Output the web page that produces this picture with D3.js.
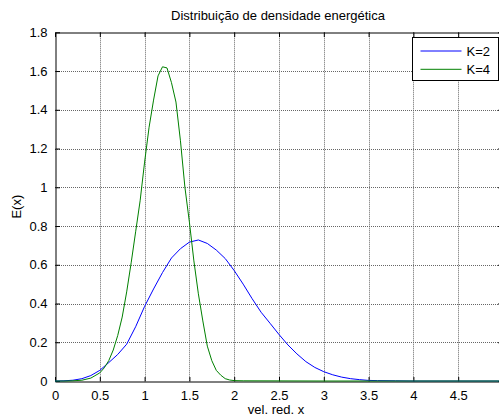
<!DOCTYPE html>
<html>
<head>
<meta charset="utf-8">
<script src="https://cdn.jsdelivr.net/npm/d3@7"></script>
<style>
  html, body { margin: 0; padding: 0; background: #fff; }
  svg { display: block; font-family: "Liberation Sans", Arial, Helvetica, sans-serif; }
</style>
</head>
<body>
<svg id="chart" width="499" height="417"></svg>
<script>
// Energy density E(x) versus reduced velocity x for two values of K
const xK2 = [0, 0.1, 0.2, 0.3, 0.4, 0.5, 0.6, 0.7, 0.8, 0.9, 1.0, 1.1, 1.2, 1.3, 1.4, 1.5, 1.6, 1.7, 1.8, 1.9,
             2.0, 2.1, 2.2, 2.3, 2.4, 2.5, 2.6, 2.7, 2.8, 2.9, 3.0, 3.1, 3.2, 3.3, 3.4, 3.5, 3.6, 3.8, 4.0, 4.5, 5.0];
const eK2 = [0, 0.001, 0.004, 0.012, 0.028, 0.055, 0.095, 0.137, 0.19, 0.28, 0.385, 0.475, 0.56, 0.635, 0.683, 0.717, 0.728, 0.71, 0.676, 0.632,
             0.57, 0.5, 0.425, 0.355, 0.298, 0.24, 0.186, 0.14, 0.1, 0.07, 0.048, 0.032, 0.02, 0.012, 0.007, 0.003, 0.002, 0.001, 0, 0, 0];

const xK4 = [0, 0.1, 0.2, 0.3, 0.4, 0.5, 0.55, 0.6, 0.65, 0.7, 0.75, 0.8, 0.85, 0.9, 0.95, 1.0, 1.05, 1.1, 1.15, 1.2,
             1.25, 1.3, 1.35, 1.4, 1.45, 1.5, 1.55, 1.6, 1.65, 1.7, 1.75, 1.8, 1.85, 1.9, 1.95, 2.0, 2.1, 3.0, 4.0, 5.0];
const eK4 = [0, 0, 0.001, 0.004, 0.015, 0.042, 0.068, 0.105, 0.16, 0.235, 0.33, 0.46, 0.61, 0.77, 0.93, 1.13, 1.31, 1.45, 1.575, 1.622,
             1.616, 1.54, 1.44, 1.24, 1.0, 0.82, 0.62, 0.45, 0.31, 0.18, 0.105, 0.055, 0.03, 0.012, 0.005, 0.002, 0.001, 0, 0, 0];

const xTicks = [0, 0.5, 1, 1.5, 2, 2.5, 3, 3.5, 4, 4.5, 5];
// the last tick (5) sits on the clipped right edge, so it carries no label
const xTickLabels = ["0", "0.5", "1", "1.5", "2", "2.5", "3", "3.5", "4", "4.5", ""];
const yTicks = [0, 0.2, 0.4, 0.6, 0.8, 1, 1.2, 1.4, 1.6, 1.8];
const yTickLabels = ["0", "0.2", "0.4", "0.6", "0.8", "1", "1.2", "1.4", "1.6", "1.8"];
const seriesNames = ["K=2", "K=4"];
const seriesColors = ["#0000ff", "#008000"];

const titleText = "Distribuição de densidade energética";
const xLabel = "vel. red. x";
const yLabel = "E(x)";

const plot = { left: 55, right: 503, top: 32.3, bottom: 381 };
const svg = d3.select("#chart");
const fontSize = 13;

const x = d3.scaleLinear().domain([0, 5]).range([plot.left, plot.right]);
const y = d3.scaleLinear().domain([0, 1.8]).range([plot.bottom, plot.top]);

// dotted grid
const grid = svg.append("g").attr("stroke", "#666").attr("stroke-dasharray", "1,1").attr("stroke-width", 1);
grid.selectAll(".gx").data(xTicks.slice(1, -1)).join("line")
  .attr("x1", d => Math.round(x(d)) + 0.5).attr("x2", d => Math.round(x(d)) + 0.5)
  .attr("y1", plot.top).attr("y2", plot.bottom);
grid.selectAll(".gy").data(yTicks.slice(1, -1)).join("line")
  .attr("y1", d => Math.round(y(d)) + 0.5).attr("y2", d => Math.round(y(d)) + 0.5)
  .attr("x1", plot.left).attr("x2", plot.right);

// axes: bottom / left with labels, top / right as inward tick box
const tickLen = 4.5;
const axisB = svg.append("g").attr("transform", `translate(0,${Math.round(plot.bottom) + 0.5})`)
  .call(d3.axisBottom(x).tickValues(xTicks).tickFormat((d, i) => xTickLabels[i])
    .tickSizeInner(-tickLen).tickSizeOuter(0).tickPadding(9));
const axisT = svg.append("g").attr("transform", `translate(0,${Math.round(plot.top) + 0.5})`)
  .call(d3.axisTop(x).tickValues(xTicks).tickFormat("").tickSizeInner(-tickLen).tickSizeOuter(0));
const axisL = svg.append("g").attr("transform", `translate(${plot.left + 0.5},0)`)
  .call(d3.axisLeft(y).tickValues(yTicks).tickFormat((d, i) => yTickLabels[i])
    .tickSizeInner(-tickLen).tickSizeOuter(0).tickPadding(8));
const axisR = svg.append("g").attr("transform", `translate(${plot.right - 0.5},0)`)
  .call(d3.axisRight(y).tickValues(yTicks).tickFormat("").tickSizeInner(-tickLen).tickSizeOuter(0));

[axisB, axisT, axisL, axisR].forEach(g => {
  g.select(".domain").attr("stroke", "#000").attr("stroke-width", 1);
  g.selectAll(".tick line").attr("stroke", "#000");
  g.selectAll(".tick text").attr("fill", "#000").attr("font-size", fontSize)
   .attr("font-family", "Liberation Sans, Arial, sans-serif");
});

// curves
const line = d3.line().x(d => x(d[0])).y(d => y(d[1]));
const seriesData = [d3.zip(xK2, eK2), d3.zip(xK4, eK4)];
svg.append("g").selectAll("path").data(seriesData).join("path")
  .attr("d", line)
  .attr("fill", "none")
  .attr("stroke", (d, i) => seriesColors[i])
  .attr("stroke-width", 1);

// titles
svg.append("text").attr("x", (plot.left + plot.right) / 2 - 1).attr("y", 20)
  .attr("text-anchor", "middle").attr("font-size", fontSize).text(titleText);
svg.append("text").attr("x", (plot.left + plot.right) / 2 - 3).attr("y", 414)
  .attr("text-anchor", "middle").attr("font-size", fontSize).text(xLabel);
svg.append("text").attr("transform", `translate(21,${(plot.top + plot.bottom) / 2}) rotate(-90)`)
  .attr("text-anchor", "middle").attr("font-size", fontSize).text(yLabel);

// legend
const lg = svg.append("g").attr("transform", "translate(412.5,37.5)");
lg.append("rect").attr("width", 86).attr("height", 43).attr("fill", "#fff").attr("stroke", "#000");
seriesNames.forEach((name, i) => {
  const yy = 13.5 + i * 18.3;
  lg.append("line").attr("x1", 8).attr("x2", 49).attr("y1", yy).attr("y2", yy)
    .attr("stroke", seriesColors[i]).attr("stroke-width", 1);
  lg.append("text").attr("x", 54).attr("y", yy + 4.6).attr("font-size", fontSize).text(name);
});
</script>
</body>
</html>
